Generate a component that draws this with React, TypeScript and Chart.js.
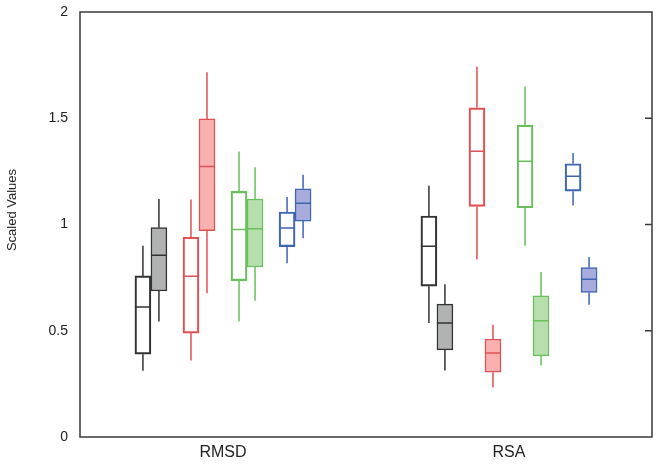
import React, { useEffect, useRef } from "react";
import { Chart, registerables } from "chart.js";

Chart.register(...registerables);

// Categories on the x axis
const categories = ["RMSD", "RSA"];

// Series (4 methods × open/filled)
const seriesNames = [
  "Black open", "Black filled",
  "Red open", "Red filled",
  "Green open", "Green filled",
  "Blue open", "Blue filled",
];

// Slot index of each series within a category group (pairs with a gap)
const seriesSlots = [-5, -4, -2, -1, 1, 2, 4, 5];

// Box statistics per series: [min, q1, median, q3, max]
const rmsdStats = [
  [0.312, 0.390, 0.612, 0.758, 0.900],
  [0.543, 0.687, 0.855, 0.985, 1.120],
  [0.360, 0.489, 0.757, 0.940, 1.118],
  [0.677, 0.971, 1.273, 1.497, 1.717],
  [0.543, 0.736, 0.976, 1.156, 1.344],
  [0.641, 0.800, 0.980, 1.120, 1.269],
  [0.818, 0.896, 0.984, 1.059, 1.129],
  [0.935, 1.016, 1.100, 1.168, 1.234],
];

const rsaStats = [
  [0.537, 0.710, 0.898, 1.040, 1.182],
  [0.313, 0.410, 0.536, 0.625, 0.719],
  [0.835, 1.085, 1.345, 1.549, 1.743],
  [0.233, 0.305, 0.395, 0.461, 0.528],
  [0.900, 1.079, 1.298, 1.468, 1.649],
  [0.336, 0.382, 0.547, 0.664, 0.777],
  [1.090, 1.157, 1.227, 1.286, 1.337],
  [0.622, 0.680, 0.742, 0.797, 0.847],
];

const yTicks = [0, 0.5, 1, 1.5, 2];

const strokeColors = [
  "#333333", "#333333",
  "#e05252", "#e05252",
  "#69bf5b", "#69bf5b",
  "#3d66b0", "#3d66b0",
];
const fillColors = [
  "rgba(0,0,0,0)", "#b1b3b3",
  "rgba(0,0,0,0)", "#f8b0b0",
  "rgba(0,0,0,0)", "#b7dfae",
  "rgba(0,0,0,0)", "#a8acdc",
];

const FONT = "'Liberation Sans', Arial, sans-serif";
const SLOT = 0.056;

const statsFor = (si: number, ci: number) => (ci === 0 ? rmsdStats[si] : rsaStats[si]);

const boxPlugin = {
  id: "boxWhiskers",
  afterDatasetsDraw(chart: any) {
    const ctx = chart.ctx;
    const ys = chart.scales.y;
    chart.data.datasets.forEach((ds: any, i: number) => {
      const meta = chart.getDatasetMeta(i);
      meta.data.forEach((el: any, j: number) => {
        const s = statsFor(i, j);
        const { x, width } = el.getProps(["x", "width"], true);
        ctx.save();
        ctx.strokeStyle = strokeColors[i];
        ctx.lineWidth = 1.5;
        ctx.beginPath();
        ctx.moveTo(x, ys.getPixelForValue(s[3]));
        ctx.lineTo(x, ys.getPixelForValue(s[4]));
        ctx.moveTo(x, ys.getPixelForValue(s[1]));
        ctx.lineTo(x, ys.getPixelForValue(s[0]));
        const ym = ys.getPixelForValue(s[2]);
        ctx.moveTo(x - width / 2, ym);
        ctx.lineTo(x + width / 2, ym);
        ctx.stroke();
        ctx.restore();
      });
    });
  },
};

const framePlugin = {
  id: "frame",
  afterDraw(chart: any) {
    const { ctx, chartArea } = chart;
    const ys = chart.scales.y;
    ctx.save();
    ctx.strokeStyle = "#3a3a3a";
    ctx.lineWidth = 1.5;
    ctx.strokeRect(chartArea.left, chartArea.top, chartArea.right - chartArea.left, chartArea.bottom - chartArea.top);
    ctx.beginPath();
    yTicks.forEach((v) => {
      if (v <= 0 || v >= 2) return;
      const py = ys.getPixelForValue(v);
      ctx.moveTo(chartArea.right - 7, py);
      ctx.lineTo(chartArea.right, py);
    });
    ctx.stroke();
    // y axis title
    ctx.fillStyle = "#222222";
    ctx.font = `13px ${FONT}`;
    ctx.textAlign = "center";
    ctx.textBaseline = "middle";
    ctx.translate(12, 210);
    ctx.rotate(-Math.PI / 2);
    ctx.fillText("Scaled Values", 0, 0);
    ctx.restore();
  },
};

export default function App() {
  const ref = useRef<HTMLCanvasElement>(null);
  useEffect(() => {
    if (!ref.current) return;
    const datasets = seriesNames.map((name, i) => ({
      label: name,
      data: categories.map((_, ci) => {
        const s = statsFor(i, ci);
        return { x: ci + seriesSlots[i] * SLOT, y: [s[1], s[3]] };
      }),
      backgroundColor: fillColors[i],
      borderColor: strokeColors[i],
      borderWidth: 1.5,
      borderSkipped: false,
      barThickness: 16,
      grouped: false,
    }));
    const chart = new Chart(ref.current, {
      type: "bar",
      data: { datasets },
      options: {
        animation: false,
        responsive: false,
        layout: { padding: { top: 12, right: 7, left: 0, bottom: 0 } },
        plugins: { legend: { display: false }, tooltip: { enabled: false } },
        scales: {
          x: {
            type: "linear",
            min: -0.5,
            max: 1.5,
            offset: false,
            afterBuildTicks: (s: any) => {
              s.ticks = categories.map((_, i) => ({ value: i }));
            },
            afterFit: (s: any) => {
              s.height = 29;
              s.paddingLeft = 0;
              s.paddingRight = 0;
            },
            ticks: {
              callback: (v: any) => categories[v] ?? "",
              font: { family: FONT, size: 16 },
              color: "#222222",
              padding: 6,
              maxRotation: 0,
            },
            grid: { display: false, drawTicks: false },
            border: { display: false },
          },
          y: {
            min: 0,
            max: 2,
            afterBuildTicks: (s: any) => {
              s.ticks = yTicks.map((v) => ({ value: v }));
            },
            afterFit: (s: any) => {
              s.width = 80;
              s.paddingTop = 0;
              s.paddingBottom = 0;
            },
            ticks: {
              callback: (v: any) => String(v),
              font: { family: FONT, size: 14 },
              color: "#222222",
              padding: 12,
            },
            grid: { display: false, drawTicks: false },
            border: { display: false },
          },
        },
      },
      plugins: [boxPlugin, framePlugin],
    });
    return () => chart.destroy();
  }, []);
  return (
    <canvas
      ref={ref}
      width={659}
      height={466}
      style={{ position: "fixed", left: 0, top: 0, display: "block", background: "#ffffff" }}
    />
  );
}
